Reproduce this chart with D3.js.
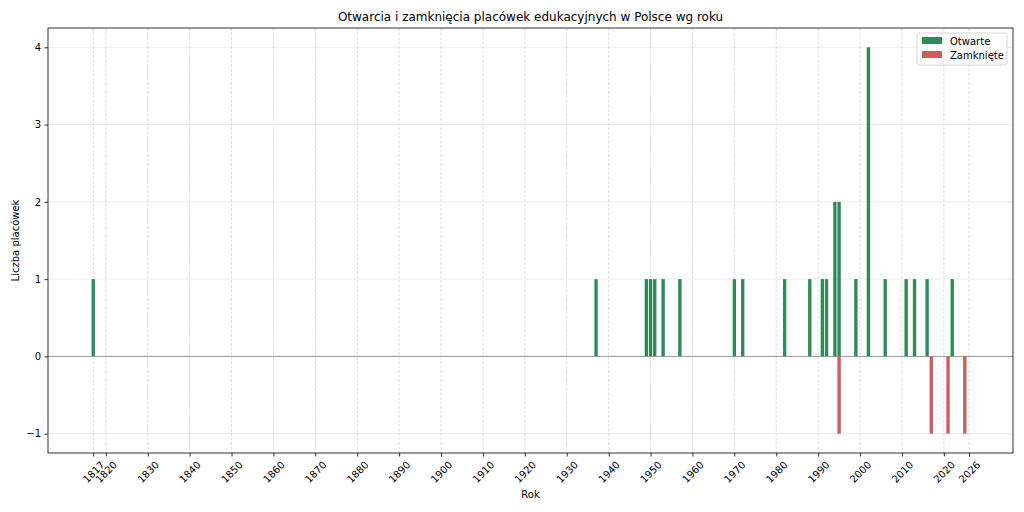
<!DOCTYPE html>
<html><head><meta charset="utf-8">
<script src="https://cdn.jsdelivr.net/npm/d3@7"></script>
<style>body{margin:0;background:#fff}svg{display:block}text{font-family:"DejaVu Sans",sans-serif}</style>
</head><body>
<svg id="c" width="1024" height="512"></svg>
<script>
const openedYears = [1817,1937,1949,1950,1951,1953,1957,1970,1972,1982,1988,1991,1992,1994,1995,1999,2002,2006,2011,2013,2016,2022];
const openedCounts = [1,1,1,1,1,1,1,1,1,1,1,1,1,2,2,1,4,1,1,1,1,1];
const closedYears = [1995,2017,2021,2025];
const closedCounts = [-1,-1,-1,-1];
const xTicks = [1817,1820,1830,1840,1850,1860,1870,1880,1890,1900,1910,1920,1930,1940,1950,1960,1970,1980,1990,2000,2010,2020,2026];
const yTicks = [-1,0,1,2,3,4];

const svg = d3.select('#c');
const L=48,R=1013,T=28,B=453;
const x = d3.scaleLinear().domain([1806.2,2036.5]).range([L,R]);
const y = d3.scaleLinear().domain([-1.25,4.25]).range([B,T]);
const bw = x(1800.8)-x(1800);

// grids
svg.append('g').selectAll('line').data(xTicks).join('line')
  .attr('x1',d=>x(d)).attr('x2',d=>x(d)).attr('y1',T).attr('y2',B)
  .attr('stroke','#b0b0b0').attr('stroke-width',0.8).attr('stroke-dasharray','3,1.5').attr('opacity',0.5);
svg.append('g').selectAll('line').data(yTicks).join('line')
  .attr('x1',L).attr('x2',R).attr('y1',d=>y(d)).attr('y2',d=>y(d))
  .attr('stroke','#b0b0b0').attr('stroke-width',0.8).attr('opacity',0.3);

// bars
const op = openedYears.map((yr,i)=>({yr,v:openedCounts[i]}));
const cl = closedYears.map((yr,i)=>({yr,v:closedCounts[i]}));
svg.append('g').selectAll('rect').data(op).join('rect')
  .attr('x',d=>x(d.yr)-bw/2).attr('width',bw)
  .attr('y',d=>y(d.v)).attr('height',d=>y(0)-y(d.v)).attr('fill','#2e8b57');
svg.append('g').selectAll('rect').data(cl).join('rect')
  .attr('x',d=>x(d.yr)-bw/2).attr('width',bw)
  .attr('y',y(0)).attr('height',d=>y(d.v)-y(0)).attr('fill','#cd5c5c');

// zero line
svg.append('line').attr('x1',L).attr('x2',R).attr('y1',y(0)).attr('y2',y(0))
  .attr('stroke','#808080').attr('stroke-width',0.8);

// axes
const xa = svg.append('g').attr('transform',`translate(0,${B})`)
  .call(d3.axisBottom(x).tickValues(xTicks).tickFormat(d3.format('d')).tickSize(3.5).tickPadding(3));
xa.selectAll('text').attr('font-size',10).attr('fill','#000')
  .attr('text-anchor','middle').attr('x',0).attr('y',19).attr('dy','0.35em')
  .attr('transform','rotate(-45,0,19)');
const ya = svg.append('g').attr('transform',`translate(${L},0)`)
  .call(d3.axisLeft(y).tickValues(yTicks).tickFormat(d=>d<0?'\u2212'+Math.abs(d):d).tickSize(3.5).tickPadding(3.5));
ya.selectAll('text').attr('font-size',10).attr('fill','#000');
svg.selectAll('.domain').remove();
svg.selectAll('.tick line').attr('stroke','#000').attr('stroke-width',0.8);
svg.append('rect').attr('x',L).attr('y',T).attr('width',R-L).attr('height',B-T)
  .attr('fill','none').attr('stroke','#000').attr('stroke-width',0.8);

// labels
svg.append('text').attr('x',(L+R)/2).attr('y',21).attr('text-anchor','middle').attr('font-size',12).text('Otwarcia i zamknięcia placówek edukacyjnych w Polsce wg roku');
svg.append('text').attr('x',(L+R)/2).attr('y',498).attr('text-anchor','middle').attr('font-size',10).text('Rok');
svg.append('text').attr('transform',`translate(19,${(T+B)/2}) rotate(-90)`).attr('text-anchor','middle').attr('font-size',10).text('Liczba placówek');

// legend
const lg = svg.append('g').attr('transform','translate(917,33)');
lg.append('rect').attr('width',90).attr('height',32).attr('rx',2).attr('fill','#fff').attr('fill-opacity',0.8).attr('stroke','#ccc').attr('stroke-width',0.8);
const items=[['Otwarte','#2e8b57'],['Zamknięte','#cd5c5c']];
items.forEach((it,i)=>{
  lg.append('rect').attr('x',5).attr('y',4+i*14).attr('width',20).attr('height',7).attr('fill',it[1]);
  lg.append('text').attr('x',33).attr('y',11.5+i*14).attr('font-size',10).text(it[0]);
});
</script>
</body></html>
